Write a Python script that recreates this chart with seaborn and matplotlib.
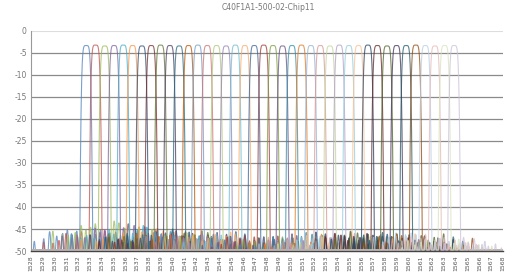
import numpy as np
import pandas as pd
import seaborn as sns
import matplotlib
matplotlib.use("Agg")
import matplotlib.pyplot as plt

# ---- data ----
title = "C40F1A1-500-02-Chip11"

# 40 channel centre wavelengths (nm), 100 GHz grid
centers = [1532.68, 1533.47, 1534.25, 1535.04, 1535.82, 1536.61, 1537.40, 1538.19,
           1538.98, 1539.77, 1540.56, 1541.35, 1542.14, 1542.94, 1543.73, 1544.53,
           1545.32, 1546.12, 1546.92, 1547.72, 1548.51, 1549.32, 1550.12, 1550.92,
           1551.72, 1552.52, 1553.33, 1554.13, 1554.94, 1555.75, 1556.55, 1557.36,
           1558.17, 1558.98, 1559.79, 1560.61, 1561.42, 1562.23, 1563.05, 1563.86]

# peak insertion loss of each channel (dB)
peak_db = [-3.3, -3.2, -3.4, -3.3, -3.2, -3.3, -3.4, -3.3, -3.2, -3.3,
           -3.4, -3.3, -3.2, -3.3, -3.3, -3.4, -3.2, -3.3, -3.3, -3.2,
           -3.3, -3.4, -3.3, -3.2, -3.3, -3.3, -3.4, -3.2, -3.3, -3.3,
           -3.2, -3.3, -3.4, -3.3, -3.3, -3.2, -3.3, -3.4, -3.3, -3.3]

# highest crosstalk side lobe of each channel (dB)
xtalk_db = [-44.6, -45.0, -43.2, -43.8, -44.2, -45.0, -45.0, -45.6, -45.4, -45.8,
            -45.6, -46.0, -45.8, -46.2, -45.9, -46.3, -46.0, -45.7, -46.1, -45.9,
            -46.4, -46.1, -45.8, -46.2, -46.0, -45.6, -46.2, -46.3, -45.9, -46.1,
            -45.7, -46.0, -45.5, -46.0, -45.8, -46.1, -45.9, -46.2, -46.6, -46.5]

# side lobe positions relative to the channel centre (nm) and their level relative to xtalk_db
lobe_offsets = [-4.4, -3.6, -3.1, -2.5, -2.0, -1.6, -1.2, -0.8, -0.45,
                0.45, 0.8, 1.2, 1.7, 2.0, 2.6, 2.9, 3.5, 4.0, 4.8]
lobe_rel_db = [-3.2, -2.6, -1.0, -2.0, -1.4, -0.6, -1.8, -0.9, 0.0,
               -0.4, -1.6, -0.7, -2.2, -1.3, -2.4, -1.9, -2.8, -2.3, -3.0]

tick_labels = [str(w) for w in range(1528, 1569)]

colors = ["#4F81BD", "#C0504D", "#9BBB59", "#8064A2", "#4BACC6", "#F79646",
          "#2C4D75", "#772C2A", "#5F7530", "#4D3B62", "#276A7C", "#B65708",
          "#729ACA", "#CD7371", "#AFC97A", "#9983B5", "#6FBDD1", "#F9AB6B",
          "#3A679C", "#9F3B38", "#7E9C40", "#664F83", "#358EA6", "#E07A2A",
          "#95B3D7", "#D99694", "#C3D69B", "#B2A1C7", "#93CDDD", "#FAC090",
          "#254061", "#632523", "#4F6228", "#403152", "#215968", "#984807",
          "#B9CDE5", "#E6B9B8", "#D7E4BD", "#CCC1DA"]

# ---- build the spectra ----
wl = np.linspace(1528, 1568, 4001)
frames = []
for i, c in enumerate(centers):
    main = peak_db[i] - 47 * (np.abs(wl - c) / 0.55) ** 5
    floor = np.full_like(wl, -49.8)
    rel = np.roll(lobe_rel_db, i)
    for off, r in zip(lobe_offsets, rel):
        bump = xtalk_db[i] + r - 3 * ((wl - c - off) / 0.1) ** 2
        floor = np.maximum(floor, bump)
    y = np.clip(np.maximum(main, floor), -50, 0)
    frames.append(pd.DataFrame({"wl": wl, "db": y, "ch": i}))
df = pd.concat(frames, ignore_index=True)

# ---- plot ----
sns.set_theme(style="white")
plt.rcParams["font.family"] = ["DejaVu Sans"]

fig = plt.figure(figsize=(5.08, 2.80), dpi=100)
ax = fig.add_axes([31 / 508, 1 - 251 / 280, 472 / 508, 220 / 280])

sns.lineplot(data=df, x="wl", y="db", hue="ch", palette=colors, estimator=None,
             legend=False, linewidth=0.8, alpha=0.75, ax=ax)

ax.set_xlim(1528, 1568)
ax.set_ylim(-50, 0)
ax.set_yticks(range(-50, 1, 5))
ax.set_yticklabels([str(v) for v in range(-50, 1, 5)], fontsize=5.5, color="#777777")
ax.set_xticks(range(1528, 1569))
ax.set_xticklabels(tick_labels, rotation=90, fontsize=4.5, color="#555555")
ax.tick_params(axis="both", length=0, pad=3)
ax.set_xlabel("")
ax.set_ylabel("")

for v in range(-45, 0, 5):
    ax.axhline(v, color="#8a8a8a", linewidth=0.9, zorder=0)
ax.axhline(0, color="#dddddd", linewidth=0.8, zorder=0)

for s in ["top", "right"]:
    ax.spines[s].set_visible(False)
ax.spines["left"].set_color("#999999")
ax.spines["left"].set_linewidth(0.8)
ax.spines["bottom"].set_color("#444444")
ax.spines["bottom"].set_linewidth(1.0)

fig.text(268 / 508, 1 - 8 / 280, title, ha="center", va="center", fontsize=5.5, color="#777777")

fig.savefig("out.png", dpi=100)
